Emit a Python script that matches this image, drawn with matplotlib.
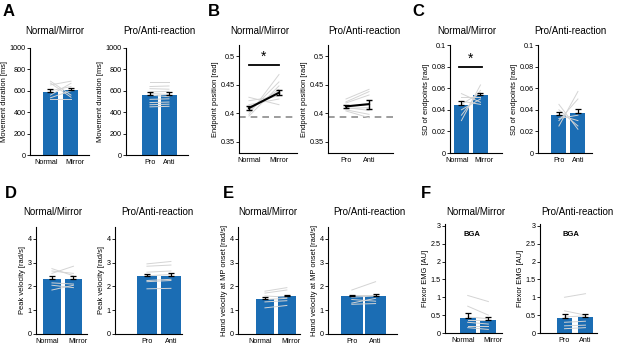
import matplotlib.pyplot as plt
import numpy as np

plt.rcParams['font.family'] = ['Liberation Sans', 'DejaVu Sans']

# ---- data ----
nm_labels = ['Normal', 'Mirror']
pa_labels = ['Pro', 'Anti']

# A movement duration [ms]
dur_nm_mean = [590, 605]
dur_nm_err = [25, 25]
dur_nm_a = [690, 672, 655, 600, 560, 535, 520]
dur_nm_b = [560, 540, 690, 640, 670, 600, 520]
dur_pa_mean = [565, 565]
dur_pa_err = [25, 25]
dur_pa_a = [680, 640, 620, 590, 575, 560, 520, 490, 470, 450]
dur_pa_b = [680, 645, 615, 595, 565, 545, 525, 495, 475, 455]

# B endpoint position [rad]
end_nm_mean = [0.409, 0.436]
end_nm_err = [0.004, 0.004]
end_nm_a = [0.398, 0.402, 0.405, 0.415, 0.422, 0.428, 0.395, 0.410]
end_nm_b = [0.468, 0.455, 0.442, 0.425, 0.430, 0.415, 0.448, 0.438]
end_pa_mean = [0.412, 0.416]
end_pa_err = [0.003, 0.008]
end_pa_a = [0.425, 0.420, 0.418, 0.412, 0.410, 0.406, 0.404, 0.408]
end_pa_b = [0.442, 0.438, 0.432, 0.415, 0.405, 0.398, 0.392, 0.410]
target_pos = 0.393

# C SD of endpoints [rad]
sd_nm_mean = [0.044, 0.054]
sd_nm_err = [0.004, 0.002]
sd_nm_a = [0.030, 0.035, 0.040, 0.048, 0.052, 0.055, 0.045]
sd_nm_b = [0.063, 0.058, 0.050, 0.045, 0.052, 0.047, 0.056]
sd_pa_mean = [0.035, 0.037]
sd_pa_err = [0.003, 0.004]
sd_pa_a = [0.025, 0.030, 0.035, 0.040, 0.045, 0.032]
sd_pa_b = [0.057, 0.050, 0.030, 0.025, 0.022, 0.035]

# D peak velocity [rad/s]
pv_nm_mean = [2.32, 2.33]
pv_nm_err = [0.10, 0.10]
pv_nm_a = [2.75, 2.65, 2.55, 2.15, 2.05, 1.85]
pv_nm_b = [2.45, 2.55, 2.85, 2.10, 1.95, 2.05]
pv_pa_mean = [2.43, 2.45]
pv_pa_err = [0.10, 0.11]
pv_pa_a = [2.95, 2.85, 2.60, 2.45, 2.25, 2.20, 1.90]
pv_pa_b = [3.05, 2.90, 2.65, 2.50, 2.30, 2.25, 1.92]

# E hand velocity at MP onset [rad/s]
hv_nm_mean = [1.48, 1.58]
hv_nm_err = [0.08, 0.08]
hv_nm_a = [1.80, 1.72, 1.60, 1.45, 1.35, 1.10]
hv_nm_b = [1.95, 1.85, 1.55, 1.50, 1.40, 1.20]
hv_pa_mean = [1.58, 1.60]
hv_pa_err = [0.05, 0.10]
hv_pa_a = [1.85, 1.65, 1.55, 1.45, 1.30, 1.25]
hv_pa_b = [2.20, 1.65, 1.60, 1.38, 1.50, 1.28]

# F flexor EMG [AU]
emg_nm_mean = [0.43, 0.37]
emg_nm_err = [0.12, 0.09]
emg_nm_a = [1.05, 0.75, 0.45, 0.35, 0.30, 0.20, 0.15]
emg_nm_b = [0.88, 0.50, 0.40, 0.35, 0.25, 0.20, 0.10]
emg_pa_mean = [0.42, 0.44]
emg_pa_err = [0.10, 0.10]
emg_pa_a = [1.00, 0.62, 0.45, 0.30, 0.20, 0.12]
emg_pa_b = [1.10, 0.50, 0.48, 0.33, 0.22, 0.15]

BLUE = '#1b6db4'
GREY = '#d4d4d4'

W, H = 617, 347
fig = plt.figure(figsize=(W / 100, H / 100), dpi=100)


def px_axes(x0, x1, y0, y1):
    # pixel box, y measured from top
    return fig.add_axes([x0 / W, 1 - y1 / H, (x1 - x0) / W, (y1 - y0) / H])


def style(ax, labels, xlim, ylim, yticks, yticklabels, ylabel, spread=0.0):
    for s in ['top', 'right']:
        ax.spines[s].set_visible(False)
    for s in ['left', 'bottom']:
        ax.spines[s].set_linewidth(0.8)
    ax.set_xlim(xlim)
    ax.set_ylim(ylim)
    ax.set_xticks([0 - spread, 1 + spread])
    ax.set_xticklabels(labels)
    ax.set_yticks(yticks)
    ax.set_yticklabels(yticklabels)
    ax.tick_params(axis='x', length=0, labelsize=5.2, pad=3)
    ax.tick_params(axis='y', length=2, width=0.6, labelsize=5.2, pad=1)
    ax.set_ylabel(ylabel, fontsize=5.4, labelpad=1.5)


def bar_panel(ax, labels, means, errs, sa, sb, width, xlim, ylim, yticks, yticklabels, ylabel, spread=0.0):
    x = np.arange(2)
    ax.bar(x, means, width, color=BLUE, zorder=1)
    for a, b in zip(sa, sb):
        ax.plot(x, [a, b], color=GREY, lw=0.7, zorder=2)
    ax.errorbar(x, means, yerr=[np.zeros(2), errs], fmt='none', ecolor='k',
                elinewidth=0.9, capsize=2, capthick=0.9, zorder=3)
    style(ax, labels, xlim, ylim, yticks, yticklabels, ylabel, spread)


def line_panel(ax, labels, means, errs, sa, sb, xlim):
    x = np.arange(2)
    for a, b in zip(sa, sb):
        ax.plot(x, [a, b], color=GREY, lw=0.7, zorder=1)
    ax.axhline(target_pos, color='#8c8c8c', lw=1.2, dashes=(4, 3), zorder=0)
    ax.errorbar(x, means, yerr=errs, color='k', lw=1.5, elinewidth=1,
                capsize=2, capthick=1, zorder=3)
    style(ax, labels, xlim, (0.33, 0.52), [0.35, 0.4, 0.45, 0.5],
          ['0.35', '0.4', '0.45', '0.5'], 'Endpoint position [rad]')


def title(x, y, s):
    fig.text(x / W, 1 - y / H, s, fontsize=7, ha='center', va='center')


def letter(x, y, s):
    fig.text(x / W, 1 - y / H, s, fontsize=12, fontweight='bold', ha='center', va='center')


# ---- row 1 ----
dur_ticks = [0, 200, 400, 600, 800, 1000]
ax = px_axes(30, 89, 48, 155)
bar_panel(ax, nm_labels, dur_nm_mean, dur_nm_err, dur_nm_a, dur_nm_b, 0.73,
          (-1.0, 1.88), (0, 1000), dur_ticks, [str(t) for t in dur_ticks],
          'Movement duration [ms]', spread=0.2)
ax = px_axes(126, 188, 48, 155)
bar_panel(ax, pa_labels, dur_pa_mean, dur_pa_err, dur_pa_a, dur_pa_b, 0.8,
          (-1.26, 2.0), (0, 1000), dur_ticks, [str(t) for t in dur_ticks], 'Movement duration [ms]')

ax = px_axes(239, 297, 45, 153)
line_panel(ax, nm_labels, end_nm_mean, end_nm_err, end_nm_a, end_nm_b, (-0.33, 1.6))
ax.plot([0, 1], [0.485, 0.485], color='k', lw=1.3)
ax.text(0.5, 0.487, '*', ha='center', va='bottom', fontsize=10)
ax = px_axes(328, 393, 45, 153)
line_panel(ax, pa_labels, end_pa_mean, end_pa_err, end_pa_a, end_pa_b, (-0.78, 2.04))

sd_ticks = [0, 0.02, 0.04, 0.06, 0.08, 0.1]
sd_labels = ['0', '0.02', '0.04', '0.06', '0.08', '0.1']
ax = px_axes(450, 502, 45, 153)
bar_panel(ax, nm_labels, sd_nm_mean, sd_nm_err, sd_nm_a, sd_nm_b, 0.79,
          (-0.6, 2.13), (0, 0.1), sd_ticks, sd_labels, 'SD of endpoints [rad]', spread=0.2)
ax.plot([-0.15, 1.1], [0.08, 0.08], color='k', lw=1.3)
ax.text(0.47, 0.0805, '*', ha='center', va='bottom', fontsize=10)
ax = px_axes(538, 592, 45, 153)
bar_panel(ax, pa_labels, sd_pa_mean, sd_pa_err, sd_pa_a, sd_pa_b, 0.79,
          (-1.1, 1.74), (0, 0.1), sd_ticks, sd_labels, 'SD of endpoints [rad]')

# ---- row 2 ----
v_ticks = [0, 1, 2, 3, 4]
ax = px_axes(36, 87, 227, 334)
bar_panel(ax, nm_labels, pv_nm_mean, pv_nm_err, pv_nm_a, pv_nm_b, 0.81,
          (-0.74, 1.63), (0, 4.5), v_ticks, [str(t) for t in v_ticks],
          'Peak velocity [rad/s]', spread=0.2)
ax = px_axes(115, 182, 227, 334)
bar_panel(ax, pa_labels, pv_pa_mean, pv_pa_err, pv_pa_a, pv_pa_b, 0.85,
          (-1.33, 1.46), (0, 4.5), v_ticks, [str(t) for t in v_ticks], 'Peak velocity [rad/s]')

ax = px_axes(238, 300, 227, 334)
bar_panel(ax, nm_labels, hv_nm_mean, hv_nm_err, hv_nm_a, hv_nm_b, 0.82,
          (-1.23, 1.6), (0, 4.5), v_ticks, [str(t) for t in v_ticks],
          'Hand velocity at MP onset [rad/s]', spread=0.2)
ax = px_axes(328, 397, 227, 334)
bar_panel(ax, pa_labels, hv_pa_mean, hv_pa_err, hv_pa_a, hv_pa_b, 0.9,
          (-1.0, 1.9), (0, 4.5), v_ticks, [str(t) for t in v_ticks], 'Hand velocity at MP onset [rad/s]')

emg_ticks = [0, 0.5, 1, 1.5, 2, 2.5, 3]
emg_labels = ['0', '0.5', '1', '1.5', '2', '2.5', '3']
ax = px_axes(445, 502, 224, 333)
bar_panel(ax, nm_labels, emg_nm_mean, emg_nm_err, emg_nm_a, emg_nm_b, 0.78,
          (-1.1, 1.66), (0, 3.05), emg_ticks, emg_labels, 'Flexor EMG [AU]', spread=0.2)
ax.text(0.2, 2.75, 'BGA', fontsize=5.5, fontweight='bold', ha='center', va='center')
ax = px_axes(540, 597, 224, 333)
bar_panel(ax, pa_labels, emg_pa_mean, emg_pa_err, emg_pa_a, emg_pa_b, 0.71,
          (-1.17, 1.55), (0, 3.05), emg_ticks, emg_labels, 'Flexor EMG [AU]')
ax.text(0.3, 2.75, 'BGA', fontsize=5.5, fontweight='bold', ha='center', va='center')

# titles and panel letters
for x, y, s in [(55, 31, 'Normal/Mirror'), (159, 31, 'Pro/Anti-reaction'),
                (260, 31, 'Normal/Mirror'), (364, 31, 'Pro/Anti-reaction'),
                (467, 31, 'Normal/Mirror'), (570, 31, 'Pro/Anti-reaction'),
                (53, 212, 'Normal/Mirror'), (157, 212, 'Pro/Anti-reaction'),
                (268, 212, 'Normal/Mirror'), (369, 212, 'Pro/Anti-reaction'),
                (476, 212, 'Normal/Mirror'), (577, 212, 'Pro/Anti-reaction')]:
    title(x, y, s)

for x, y, s in [(9, 11, 'A'), (214, 11, 'B'), (418, 11, 'C'),
                (11, 193, 'D'), (228, 193, 'E'), (426, 194, 'F')]:
    letter(x, y, s)

fig.savefig('out.png', dpi=100, facecolor='white')
